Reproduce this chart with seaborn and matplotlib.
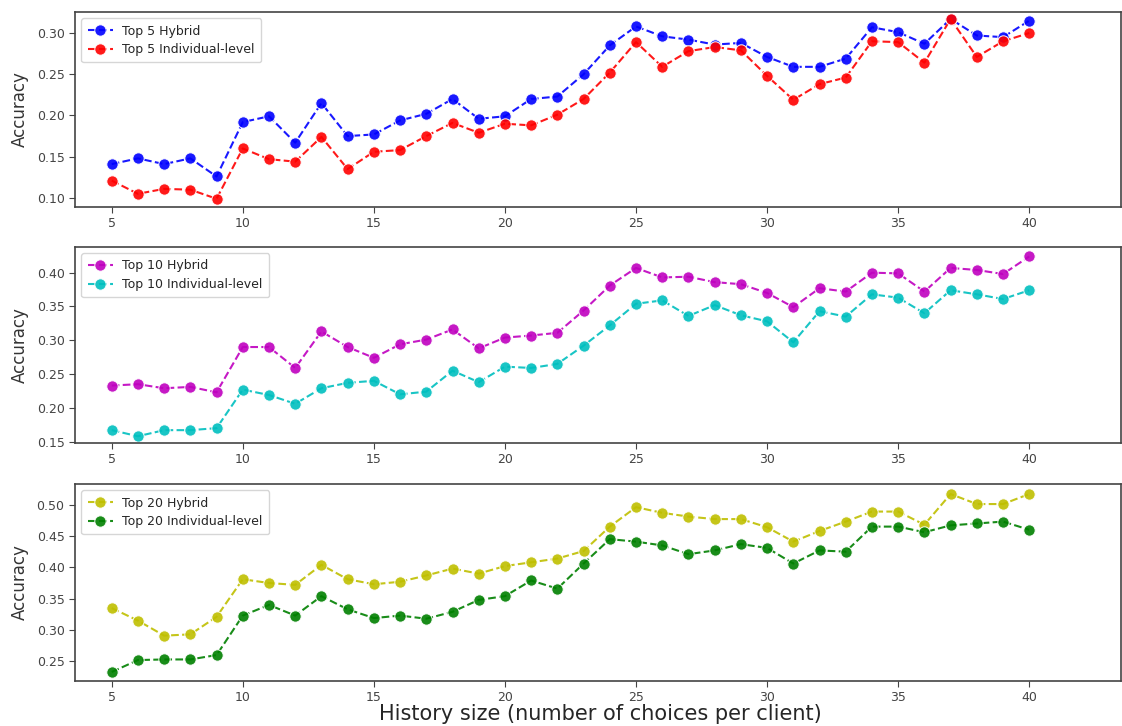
import numpy as np
import seaborn as sns
import matplotlib
matplotlib.use('Agg')
import matplotlib.pyplot as plt

# history size
hist = list(range(5, 41))

top5_hybrid = [0.141, 0.148, 0.141, 0.148, 0.126, 0.192, 0.199, 0.167, 0.215, 0.175,
               0.177, 0.194, 0.202, 0.220, 0.196, 0.199, 0.220, 0.223, 0.250, 0.285,
               0.308, 0.296, 0.292, 0.286, 0.288, 0.271, 0.259, 0.259, 0.269, 0.307,
               0.301, 0.287, 0.317, 0.297, 0.295, 0.315]
top5_indiv = [0.121, 0.105, 0.111, 0.110, 0.099, 0.160, 0.147, 0.144, 0.174, 0.135,
              0.156, 0.158, 0.175, 0.191, 0.179, 0.190, 0.188, 0.201, 0.220, 0.252,
              0.289, 0.259, 0.278, 0.283, 0.279, 0.248, 0.219, 0.238, 0.246, 0.290,
              0.289, 0.264, 0.317, 0.271, 0.290, 0.300]

top10_hybrid = [0.233, 0.235, 0.229, 0.231, 0.223, 0.290, 0.290, 0.259, 0.313, 0.290,
                0.274, 0.294, 0.301, 0.316, 0.288, 0.304, 0.307, 0.311, 0.344, 0.381,
                0.407, 0.393, 0.394, 0.386, 0.383, 0.370, 0.349, 0.377, 0.372, 0.400,
                0.399, 0.372, 0.407, 0.404, 0.398, 0.424]
top10_indiv = [0.167, 0.158, 0.167, 0.167, 0.170, 0.227, 0.219, 0.206, 0.229, 0.237,
               0.240, 0.220, 0.224, 0.255, 0.238, 0.261, 0.259, 0.265, 0.292, 0.322,
               0.354, 0.359, 0.336, 0.352, 0.337, 0.328, 0.297, 0.343, 0.335, 0.368,
               0.363, 0.340, 0.374, 0.368, 0.361, 0.374]

top20_hybrid = [0.335, 0.315, 0.291, 0.293, 0.321, 0.381, 0.375, 0.372, 0.404, 0.381,
                0.373, 0.377, 0.387, 0.398, 0.390, 0.402, 0.408, 0.414, 0.426, 0.465,
                0.496, 0.487, 0.481, 0.477, 0.477, 0.464, 0.441, 0.458, 0.473, 0.489,
                0.489, 0.468, 0.517, 0.501, 0.501, 0.517]
top20_indiv = [0.233, 0.252, 0.253, 0.253, 0.260, 0.323, 0.340, 0.323, 0.354, 0.333,
               0.319, 0.323, 0.318, 0.329, 0.348, 0.354, 0.379, 0.366, 0.406, 0.445,
               0.441, 0.435, 0.421, 0.427, 0.437, 0.431, 0.406, 0.427, 0.425, 0.465,
               0.465, 0.456, 0.467, 0.470, 0.473, 0.460]

panels = [
    (('Top 5 Hybrid', top5_hybrid, 'b'), ('Top 5 Individual-level', top5_indiv, 'r'), (0.089, 0.3255)),
    (('Top 10 Hybrid', top10_hybrid, 'm'), ('Top 10 Individual-level', top10_indiv, 'c'), (0.148, 0.438)),
    (('Top 20 Hybrid', top20_hybrid, 'y'), ('Top 20 Individual-level', top20_indiv, 'g'), (0.2186, 0.533)),
]

sns.set_style('ticks')
plt.rcParams['font.family'] = ['DejaVu Sans']

fig = plt.figure(figsize=(11.22, 7.26), dpi=100)
W, H = 1122, 726
# axes boxes in pixels (left, top, right, bottom)
boxes = [(75, 12, 1121, 207), (75, 247, 1121, 443), (75, 484, 1121, 681)]

for (s1, s2, ylim), (l, t, r, b) in zip(panels, boxes):
    ax = fig.add_axes([l / W, 1 - b / H, (r - l) / W, (b - t) / H])
    for name, vals, col in (s1, s2):
        sns.lineplot(x=hist, y=vals, ax=ax, color=col, marker='o', linestyle='--',
                     markersize=8.2, linewidth=1.5, alpha=0.9, label=name)
    ax.set_xlim(3.6, 43.5)
    ax.set_ylim(*ylim)
    ax.set_xticks([5, 10, 15, 20, 25, 30, 35, 40])
    ax.set_ylabel('Accuracy', fontsize=12, color='#333333')
    ax.tick_params(labelsize=9, colors='#444444', length=4)
    for sp in ax.spines.values():
        sp.set_color('#444444')
        sp.set_linewidth(1.2)
    ax.yaxis.set_label_coords(-0.044, 0.5)
    leg = ax.legend(loc='upper left', fontsize=9, frameon=True, handlelength=2.0,
                    borderpad=0.5, labelspacing=0.45)
    leg.get_frame().set_edgecolor('#cccccc')

fig.text(0.535, 1 - 714 / H, 'History size (number of choices per client)',
         ha='center', va='center', fontsize=15)

fig.savefig('out.png', dpi=100)
